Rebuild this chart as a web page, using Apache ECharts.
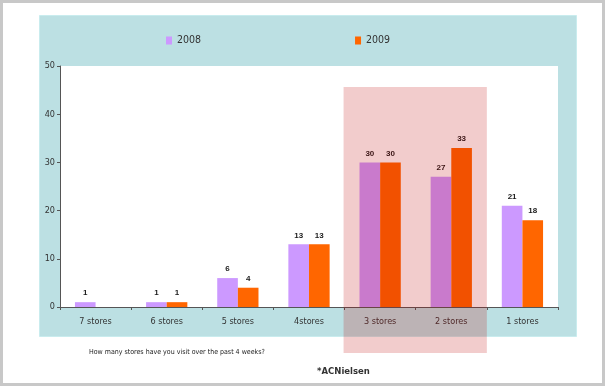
<!DOCTYPE html>
<html><head><meta charset="utf-8">
<script src="https://cdn.jsdelivr.net/npm/echarts@6/dist/echarts.min.js"></script>
<style>html,body{margin:0;padding:0;background:#fff}#c{width:605px;height:386px}</style>
</head><body><div id="c"></div>
<script>
const categories = ['7 stores', '6 stores', '5 stores', '4stores', '3 stores', '2 stores', '1 stores'];
const seriesNames = ['2008', '2009'];
const values2008 = [1, 1, 6, 13, 30, 27, 21];
const values2009 = [null, 1, 4, 13, 30, 33, 18];
const yMin = 0, yMax = 50, yInterval = 10;
const highlighted = ['3 stores', '2 stores'];
const questionText = 'How many stores have you visit over the past 4 weeks?';
const sourceText = '*ACNielsen';

const NARROW = "'Liberation Sans Narrow','DejaVu Sans Condensed','Liberation Sans',sans-serif";
const chart = echarts.init(document.getElementById('c'), null, {renderer: 'canvas'});

const labelStyle = {
  show: true, position: 'top', distance: 5,
  fontFamily: "'Liberation Sans',sans-serif", fontWeight: 'bold', fontSize: 8, color: '#1a1a1a'
};

const bg = [
  {type: 'rect', z: -30, silent: true, shape: {x: 0, y: 0, width: 605, height: 386}, style: {fill: '#c8c8c8'}},
  {type: 'rect', z: -29, silent: true, shape: {x: 3, y: 3, width: 599, height: 380}, style: {fill: '#ffffff'}},
  {type: 'rect', z: -28, silent: true, shape: {x: 39.5, y: 15.5, width: 537, height: 321}, style: {fill: '#bce0e3', stroke: '#c9ecee', lineWidth: 1}},
  {type: 'text', z: 5, silent: true, x: 89, y: 352, style: {text: questionText, fontFamily: NARROW, fontSize: 7, fill: '#222', verticalAlign: 'middle'}},
  {type: 'text', z: 5, silent: true, x: 317, y: 372, style: {text: sourceText, fontFamily: "'DejaVu Sans',sans-serif", fontWeight: 'bold', fontSize: 8.5, fill: '#333', verticalAlign: 'middle'}}
];

chart.setOption({
  animation: false,
  backgroundColor: '#ffffff',
  color: ['#cc99ff', '#ff6600'],
  legend: {
    left: 166, top: 35, padding: 0, itemWidth: 6, itemHeight: 8, itemGap: 154,
    icon: 'rect', textStyle: {fontFamily: NARROW, fontSize: 10.5, color: '#333'},
    data: seriesNames
  },
  grid: {left: 60, right: 47, top: 66, bottom: 79, show: true, backgroundColor: '#ffffff', borderWidth: 0},
  xAxis: {
    type: 'category', data: categories,
    axisLine: {lineStyle: {color: '#555', width: 1}},
    axisTick: {show: true, length: 3, lineStyle: {color: '#555'}},
    axisLabel: {fontFamily: NARROW, fontSize: 9, color: '#333', margin: 10}
  },
  yAxis: {
    type: 'value', min: yMin, max: yMax, interval: yInterval,
    splitLine: {show: false},
    axisLine: {show: true, lineStyle: {color: '#555', width: 1}},
    axisTick: {show: true, length: 3, lineStyle: {color: '#555'}},
    axisLabel: {fontFamily: NARROW, fontSize: 9, color: '#333', margin: 5}
  },
  series: [
    {name: seriesNames[0], type: 'bar', data: values2008, barGap: '0%', barCategoryGap: '42%', label: labelStyle},
    {name: seriesNames[1], type: 'bar', data: values2009, barGap: '0%', barCategoryGap: '42%', label: labelStyle}
  ],
  graphic: bg
});

// Highlight band over the two highlighted categories
const c0 = chart.convertToPixel({xAxisIndex: 0}, highlighted[0]);
const c1 = chart.convertToPixel({xAxisIndex: 0}, highlighted[highlighted.length - 1]);
const step = chart.convertToPixel({xAxisIndex: 0}, categories[1]) - chart.convertToPixel({xAxisIndex: 0}, categories[0]);
const x0 = c0 - step / 2 - 1;
const x1 = c1 + step / 2;
chart.setOption({
  graphic: bg.concat([
    {type: 'rect', z: 100, silent: true, shape: {x: x0, y: 87, width: x1 - x0, height: 266}, style: {fill: 'rgba(190,0,0,0.2)'}}
  ])
});
</script></body></html>
